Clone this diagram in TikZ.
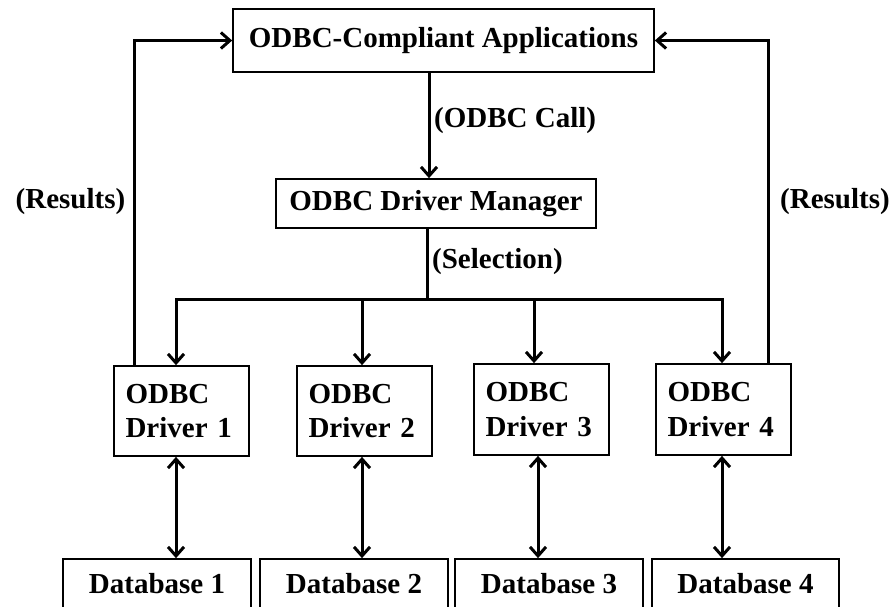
\documentclass[tikz,border=0pt]{standalone}
\usepackage{fontspec}
\setmainfont{Liberation Serif}
\usetikzlibrary{arrows.meta}
\tikzset{
  box/.style={draw, line width=1.7pt, rectangle, inner sep=0pt, font=\bfseries\fontsize{29}{34.8}\selectfont},
  drv/.style={box, minimum width=135pt, text width=112pt, align=left},
  lbl/.style={inner sep=0pt, font=\bfseries\fontsize{29}{34.8}\selectfont},
  conn/.style={line width=3pt, line join=miter},
  arr/.style={conn, -{Straight Barb[length=9pt,width=16pt]}},
  barr/.style={conn, {Straight Barb[length=9pt,width=16pt]}-{Straight Barb[length=9pt,width=16pt]}}
}
\begin{document}
\begin{tikzpicture}[x=1pt,y=-1pt]
\clip (0,0) rectangle (893,606);
\fill[white] (0,0) rectangle (893,606);
% boxes
\node[box, minimum width=421pt, minimum height=63pt] (app) at (443.5,40.5) {ODBC-Compliant Applications};
\node[box, minimum width=320pt, minimum height=49pt] (mgr) at (436,203.5) {ODBC Driver Manager};
\node[drv, minimum height=90pt] (d1) at (181.5,411) {ODBC\\Driver 1};
\node[drv, minimum height=90pt] (d2) at (364.5,411) {ODBC\\Driver 2};
\node[drv, minimum height=91pt] (d3) at (541.5,409.5) {ODBC\\Driver 3};
\node[drv, minimum height=91pt] (d4) at (723.5,409.5) {ODBC\\Driver 4};
\node[box, minimum width=188pt, minimum height=50pt] (db1) at (157,584) {Database 1};
\node[box, minimum width=188pt, minimum height=50pt] (db2) at (354,584) {Database 2};
\node[box, minimum width=188pt, minimum height=50pt] (db3) at (549,584) {Database 3};
\node[box, minimum width=187pt, minimum height=50pt] (db4) at (745.5,584) {Database 4};
% labels
\node[lbl, anchor=west] (call) at (434,121) {(ODBC Call)};
\node[lbl, anchor=west] (sel) at (432,262) {(Selection)};
\node[lbl] (res1) at (70.5,202) {(Results)};
\node[lbl] (res2) at (835,202) {(Results)};
% helper coordinates
\coordinate (cx) at (429,0);
\coordinate (bs) at (427,299);
\coordinate (b1) at (176,299);
\coordinate (b2) at (362,299);
\coordinate (b3) at (534,299);
\coordinate (b4) at (722,299);
\coordinate (rl) at (134.5,0);
\coordinate (rr) at (768,0);
\coordinate (v1) at (176,0);
\coordinate (v2) at (362,0);
\coordinate (v3) at (538,0);
\coordinate (v4) at (722,0);
% connectors
\draw[arr] (app.south -| cx) -- (mgr.north -| cx);
\draw[conn] (mgr.south -| bs) -- (bs);
\draw[barr] (d1.north -| b1) -- (b1) -- (b4) -- (d4.north -| b4);
\draw[arr] (b2) -- (d2.north -| b2);
\draw[arr] (b3) -- (d3.north -| b3);
\draw[arr] (d1.north -| rl) -- (rl |- app.west) -- (app.west);
\draw[arr] (d4.north -| rr) -- (rr |- app.east) -- (app.east);
\draw[barr] (d1.south -| v1) -- (db1.north -| v1);
\draw[barr] (d2.south -| v2) -- (db2.north -| v2);
\draw[barr] (d3.south -| v3) -- (db3.north -| v3);
\draw[barr] (d4.south -| v4) -- (db4.north -| v4);
\end{tikzpicture}
\end{document}
